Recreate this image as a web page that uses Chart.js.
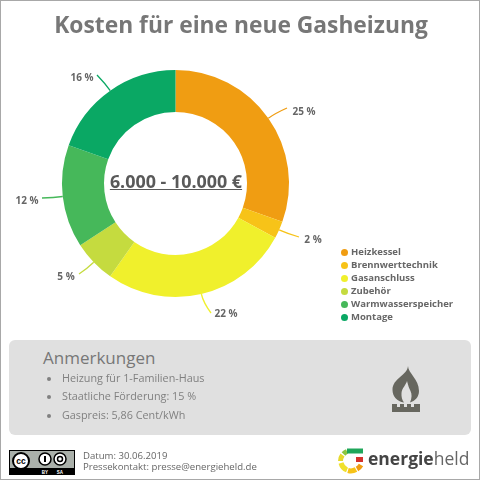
<!doctype html>
<html>
<head>
    <meta charset="utf-8">
    <title>Kosten für eine neue Gasheizung</title>
    <script src="https://cdn.jsdelivr.net/npm/chart.js@4"></script>
    <style>
    html, body { margin: 0; padding: 0; background: #fff; }
    body { font-family: "Open Sans", sans-serif; }
    #page { position: relative; width: 478px; height: 478px; border: 1px solid #a8a8a8; overflow: hidden; }
    #page > * { position: absolute; }
    #chart-area { left: -1px; top: -1px; }
    .line { white-space: nowrap; line-height: 1; }
    #title { left: 0; width: 480px; top: 13px; text-align: center; font-size: 22.8px; font-weight: 700; color: #777; }
    #sum { left: 0; width: 350px; top: 172px; text-align: center; font-size: 17.9px; font-weight: 700; color: #595959; text-decoration: underline; }
    #panel { left: 8px; top: 339px; width: 462px; height: 95px; background: #e0e0e0; border-radius: 6px; }
    #notes-head { left: 42px; top: 348px; font-size: 17px; color: #777; }
    .note { left: 61px; font-size: 10.8px; color: #808080; }
    .dot { width: 4px; height: 4px; border-radius: 50%; background: #808080; left: 46px; }
    .legend-dot { width: 7px; height: 7px; border-radius: 50%; left: 340px; }
    .legend-text { left: 350px; font-size: 9.5px; font-weight: 700; color: #666; }
    .foot { left: 82px; font-size: 9.6px; color: #666; }
    #cc { left: 8px; top: 449px; }
    #flame { left: 388px; top: 363px; }
    #logo { left: 337px; top: 446px; }
    #brand { left: 367px; top: 449px; font-size: 17.5px; color: #555; }
    #brand b { color: #444; }
    #brand span { font-weight: 400; color: #666; }
    </style>
</head>
<body>
<div id="page">
    <canvas id="chart-area" width="480" height="480"></canvas>
    <div id="title" class="line">Kosten für eine neue Gasheizung</div>
    <div id="sum" class="line">6.000 - 10.000 €</div>
    <div id="panel"></div>
    <div id="notes-head" class="line">Anmerkungen</div>
    <svg id="flame" width="34" height="50" viewBox="0 0 34 50">
        <path fill="#67675f" d="M19 2 C19 9 30 15 30 27 C30 33 26 37 21 38.5 C23 34 23 30 21.5 27 C20 24 19 21 18 17 C17 21 13 24 12.5 29 C12.3 33 13 36 15 38.5 C8 37.5 3.5 32.5 3.5 26 C3.5 14 18 12 19 2 Z"/>
        <path fill="#67675f" d="M3 40 h5 v3 h3 v-3 h4 v3 h3 v-3 h4 v3 h3 v-3 h6 v8 h-28 z"/>
    </svg>
    <svg id="cc" width="66" height="25" viewBox="0 0 66 25">
        <rect x=".5" y=".5" width="65" height="24" fill="#aab0aa" stroke="#000"/>
        <rect y="18" width="66" height="7" fill="#000"/>
        <circle cx="12" cy="11" r="8" fill="#fff" stroke="#000" stroke-width="2"/>
        <text x="12" y="14" font-size="8.5" font-weight="700" text-anchor="middle" font-family="Liberation Sans">cc</text>
        <circle cx="36" cy="9" r="6" fill="#fff" stroke="#000" stroke-width="1.5"/>
        <rect x="35" y="6" width="2" height="6" fill="#000"/>
        <circle cx="51" cy="9" r="6" fill="#fff" stroke="#000" stroke-width="1.5"/>
        <circle cx="51" cy="9" r="2.5" fill="none" stroke="#000" stroke-width="1.5"/>
        <text x="36" y="23.5" font-size="4.5" font-weight="700" fill="#fff" text-anchor="middle" font-family="Liberation Sans">BY</text>
        <text x="51" y="23.5" font-size="4.5" font-weight="700" fill="#fff" text-anchor="middle" font-family="Liberation Sans">SA</text>
    </svg>
    <svg id="logo" width="28" height="28" viewBox="0 0 28 28" fill="none" stroke-width="5">
        <path d="M2.5 14 A10.5 10.5 0 0 1 4.5 8" stroke="#e6d92c"/>
        <path d="M5.5 7 A10.5 10.5 0 0 1 9 4.5" stroke="#8cc63f"/>
        <path d="M9 4 H25" stroke="#1fa65a"/>
        <path d="M18 12.5 H25" stroke="#d4322c"/>
        <path d="M23 18 A10.5 10.5 0 0 1 19 22" stroke="#f09d12"/>
        <path d="M18 22.5 A10.5 10.5 0 0 1 10 23.5" stroke="#f7c318"/>
        <path d="M9 23 A10.5 10.5 0 0 1 3 16" stroke="#f0e02c"/>
    </svg>
    <div id="brand" class="line"><b>energie</b><span>held</span></div>
</div>
<script>
var kategorien = ['Heizkessel', 'Brennwerttechnik', 'Gasanschluss', 'Zubehör', 'Warmwasserspeicher', 'Montage'];
var prozent = [25, 2, 22, 5, 12, 16];
var farben = ['#f09d12', '#f7c318', '#f0f02c', '#c5db3f', '#46b85a', '#0aa864'];
var anmerkungen = ['Heizung für 1-Familien-Haus', 'Staatliche Förderung: 15 %', 'Gaspreis: 5,86 Cent/kWh'];
var fussText = ['Datum: 30.06.2019', 'Pressekontakt: presse@energieheld.de'];

// label spots and line ends, by hand
var labelPos = [[304, 112], [313, 240], [226, 314], [66, 277], [27, 201], [82, 78]];
var lineEnd = [[287, 108], [299, 237], [211, 313], [79, 274], [42, 198], [97, 75]];
var legendY = [252, 265, 278, 291, 304.5, 317.5];
var noteY = [379, 397, 416];
var footY = [456, 467];

var page = document.getElementById('page');
function addBox(cls, y, text, color) {
    var d = document.createElement('div');
    d.className = cls;
    d.style.top = y + 'px';
    if (text) d.textContent = text;
    if (color) d.style.background = color;
    page.appendChild(d);
}
kategorien.forEach(function (name, i) {
    addBox('legend-dot', legendY[i] - 4.5, '', farben[i]);
    addBox('line legend-text', legendY[i] - 6.5, name);
});
anmerkungen.forEach(function (t, i) {
    addBox('dot', noteY[i] - 3);
    addBox('line note', noteY[i] - 7, t);
});
fussText.forEach(function (t, i) {
    addBox('line foot', footY[i] - 6.5, t);
});

var leaderPlugin = {
    id: 'leader',
    afterDatasetsDraw: function (chart) {
        var ctx = chart.ctx;
        chart.getDatasetMeta(0).data.forEach(function (arc, i) {
            var mid = (arc.startAngle + arc.endAngle) / 2;
            var sx = arc.x + Math.cos(mid) * arc.outerRadius;
            var sy = arc.y + Math.sin(mid) * arc.outerRadius;
            var ex = lineEnd[i][0], ey = lineEnd[i][1];
            // bend: go out along the radius first
            var cx = arc.x + Math.cos(mid) * (arc.outerRadius + 9);
            var cy = arc.y + Math.sin(mid) * (arc.outerRadius + 9);
            ctx.save();
            ctx.strokeStyle = farben[i];
            ctx.lineWidth = 1.3;
            ctx.beginPath();
            ctx.moveTo(sx, sy);
            ctx.quadraticCurveTo(cx, cy, ex, ey);
            ctx.stroke();
            ctx.fillStyle = '#666';
            ctx.font = '700 10px "Open Sans"';
            ctx.textAlign = 'center';
            ctx.textBaseline = 'middle';
            ctx.fillText(prozent[i] + ' %', labelPos[i][0], labelPos[i][1]);
            ctx.restore();
        });
    }
};

window.onload = function () {
    var ctx = document.getElementById('chart-area').getContext('2d');
    window.myPie = new Chart(ctx, {
        type: 'doughnut',
        data: {
            labels: kategorien,
            datasets: [{ data: prozent, backgroundColor: farben, borderWidth: 0 }]
        },
        options: {
            responsive: false,
            animation: false,
            cutout: '63%',
            layout: { padding: { left: 62, right: 191, top: 70, bottom: 183 } },
            plugins: { legend: { display: false }, tooltip: { enabled: false } }
        },
        plugins: [leaderPlugin]
    });
};
</script>
</body>
</html>
